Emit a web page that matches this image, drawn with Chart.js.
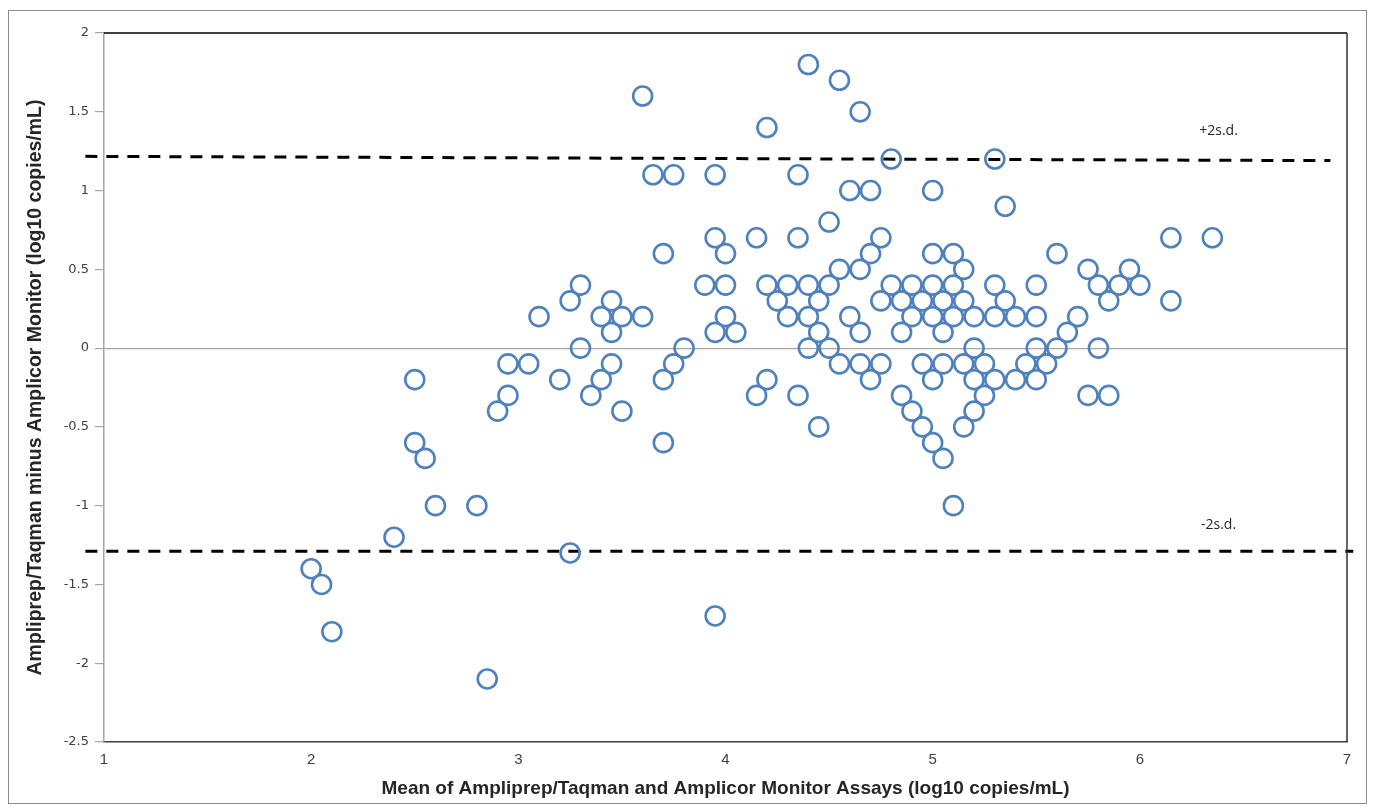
<!DOCTYPE html>
<html>
<head>
<meta charset="utf-8">
<script src="https://cdn.jsdelivr.net/npm/chart.js@4.4.1/dist/chart.umd.min.js"></script>
<style>
  html, body { margin: 0; padding: 0; background: #ffffff; }
  #wrap { position: relative; width: 1375px; height: 807px; }
</style>
</head>
<body>
<div id="wrap"><canvas id="c" width="1375" height="807"></canvas></div>
<script>
// Mean of the two assays (x) and difference (y)
const meanValues = [
  2.0, 2.05, 2.1, 2.4, 2.5, 2.5, 2.55, 2.6, 2.8, 2.85,
  2.9, 2.95, 2.95, 3.05, 3.1, 3.2, 3.25, 3.25, 3.3, 3.3,
  3.35, 3.4, 3.4, 3.45, 3.45, 3.45, 3.5, 3.5, 3.6, 3.6,
  3.65, 3.7, 3.7, 3.7, 3.75, 3.75, 3.8, 3.9, 3.95, 3.95,
  3.95, 3.95, 4.0, 4.0, 4.0, 4.05, 4.15, 4.15, 4.2, 4.2,
  4.2, 4.25, 4.3, 4.3, 4.35, 4.35, 4.35, 4.4, 4.4, 4.4,
  4.4, 4.45, 4.45, 4.45, 4.5, 4.5, 4.5, 4.55, 4.55, 4.55,
  4.6, 4.6, 4.65, 4.65, 4.65, 4.65, 4.7, 4.7, 4.7, 4.75,
  4.75, 4.75, 4.8, 4.8, 4.85, 4.85, 4.85, 4.9, 4.9, 4.9,
  4.95, 4.95, 4.95, 5.0, 5.0, 5.0, 5.0, 5.0, 5.0, 5.05,
  5.05, 5.05, 5.05, 5.1, 5.1, 5.1, 5.1, 5.15, 5.15, 5.15,
  5.15, 5.2, 5.2, 5.2, 5.2, 5.25, 5.25, 5.3, 5.3, 5.3,
  5.3, 5.35, 5.35, 5.4, 5.4, 5.45, 5.5, 5.5, 5.5, 5.5,
  5.55, 5.6, 5.6, 5.65, 5.7, 5.75, 5.75, 5.8, 5.8, 5.85,
  5.85, 5.9, 5.95, 6.0, 6.15, 6.15, 6.35
];
const diffValues = [
  -1.4, -1.5, -1.8, -1.2, -0.2, -0.6, -0.7, -1.0, -1.0, -2.1,
  -0.4, -0.1, -0.3, -0.1, 0.2, -0.2, 0.3, -1.3, 0.4, 0.0,
  -0.3, 0.2, -0.2, 0.3, 0.1, -0.1, 0.2, -0.4, 1.6, 0.2,
  1.1, 0.6, -0.2, -0.6, 1.1, -0.1, 0.0, 0.4, 1.1, 0.7,
  0.1, -1.7, 0.6, 0.4, 0.2, 0.1, 0.7, -0.3, 1.4, 0.4,
  -0.2, 0.3, 0.4, 0.2, 1.1, 0.7, -0.3, 1.8, 0.4, 0.2,
  0.0, 0.3, 0.1, -0.5, 0.8, 0.4, 0.0, 1.7, 0.5, -0.1,
  1.0, 0.2, 1.5, 0.5, 0.1, -0.1, 1.0, 0.6, -0.2, 0.7,
  0.3, -0.1, 1.2, 0.4, 0.3, 0.1, -0.3, 0.4, 0.2, -0.4,
  0.3, -0.1, -0.5, 1.0, 0.6, 0.4, 0.2, -0.2, -0.6, 0.3,
  0.1, -0.1, -0.7, 0.6, 0.4, 0.2, -1.0, 0.5, 0.3, -0.1,
  -0.5, 0.2, 0.0, -0.2, -0.4, -0.1, -0.3, 1.2, 0.4, 0.2,
  -0.2, 0.9, 0.3, 0.2, -0.2, -0.1, 0.4, 0.2, 0.0, -0.2,
  -0.1, 0.6, 0.0, 0.1, 0.2, 0.5, -0.3, 0.4, 0.0, 0.3,
  -0.3, 0.4, 0.5, 0.4, 0.7, 0.3, 0.7
];
// +/- 2 s.d. limit lines (end points)
const upperSdX = [0.91, 6.92];
const upperSdY = [1.217, 1.19];
const lowerSdX = [0.91, 7.03];
const lowerSdY = [-1.29, -1.29];
// Axis ranges / tick steps
const xRange = [1, 7];
const xStep = 1;
const yRange = [-2.5, 2];
const yStep = 0.5;
// Texts
const xTitle = 'Mean of Ampliprep/Taqman and Amplicor Monitor Assays (log10 copies/mL)';
const yTitle = 'Ampliprep/Taqman minus Amplicor Monitor (log10 copies/mL)';
const sdLabels = [
  { text: '+2s.d.', x: 6.38, y: 1.38 },
  { text: '-2s.d.', x: 6.38, y: -1.12 }
];

const scatterPoints = meanValues.map((m, i) => ({ x: m, y: diffValues[i] }));
const upperLine = upperSdX.map((x, i) => ({ x: x, y: upperSdY[i] }));
const lowerLine = lowerSdX.map((x, i) => ({ x: x, y: lowerSdY[i] }));

const framePlugin = {
  id: 'frame',
  afterDraw(chart) {
    const ctx = chart.ctx;
    const a = chart.chartArea;
    ctx.save();
    // outer frame
    ctx.strokeStyle = '#8c8c8c';
    ctx.lineWidth = 1;
    ctx.strokeRect(8.5, 10.5, 1358, 793);
    // top and right border of plot area
    ctx.strokeStyle = '#000000';
    ctx.lineWidth = 1.5;
    ctx.beginPath();
    ctx.moveTo(a.left, a.top);
    ctx.lineTo(a.right, a.top);
    ctx.stroke();
    ctx.strokeStyle = '#333333';
    ctx.beginPath();
    ctx.moveTo(a.right, a.top);
    ctx.lineTo(a.right, a.bottom);
    ctx.stroke();
    // s.d. labels
    const xs = chart.scales.x, ys = chart.scales.y;
    ctx.fillStyle = '#262626';
    ctx.font = '14px "Open Sans", sans-serif';
    ctx.textAlign = 'center';
    ctx.textBaseline = 'middle';
    sdLabels.forEach(l => {
      ctx.fillText(l.text, xs.getPixelForValue(l.x), ys.getPixelForValue(l.y));
    });
    ctx.restore();
  }
};

new Chart(document.getElementById('c'), {
  type: 'scatter',
  data: {
    datasets: [
      {
        label: 'Difference',
        data: scatterPoints,
        showLine: false,
        pointStyle: 'circle',
        pointRadius: 9.5,
        pointHoverRadius: 9.5,
        pointBorderWidth: 2.6,
        pointBackgroundColor: 'rgba(255,255,255,0)',
        pointBorderColor: '#4f81bd',
        order: 1
      },
      {
        label: '+2 s.d.',
        data: upperLine,
        showLine: true,
        pointRadius: 0,
        borderColor: '#000000',
        borderWidth: 3,
        borderDash: [12, 9],
        clip: false,
        order: 2
      },
      {
        label: '-2 s.d.',
        data: lowerLine,
        showLine: true,
        pointRadius: 0,
        borderColor: '#000000',
        borderWidth: 3,
        borderDash: [12, 9],
        clip: false,
        order: 2
      }
    ]
  },
  options: {
    responsive: false,
    animation: false,
    devicePixelRatio: 1,
    layout: { padding: { top: 33, right: 28, left: 0, bottom: 0 } },
    plugins: {
      legend: { display: false },
      tooltip: { enabled: false },
      title: { display: false }
    },
    scales: {
      x: {
        type: 'linear',
        min: xRange[0],
        max: xRange[1],
        ticks: {
          stepSize: xStep,
          color: '#404040',
          font: { family: '"Liberation Sans Narrow", "Liberation Sans", sans-serif', size: 15 },
          padding: 9,
          maxRotation: 0
        },
        grid: { display: true, drawOnChartArea: false, drawTicks: false },
        border: { display: true, color: '#404040', width: 1.5 },
        title: {
          display: true,
          text: xTitle,
          color: '#262626',
          font: { family: '"Liberation Sans Narrow", "Liberation Sans", sans-serif', size: 19, weight: 'bold' },
          padding: { top: 2, bottom: 7 }
        },
        afterFit(scale) { scale.height = 65; }
      },
      y: {
        type: 'linear',
        min: yRange[0],
        max: yRange[1],
        ticks: {
          stepSize: yStep,
          color: '#404040',
          font: { family: '"DejaVu Sans", sans-serif', size: 13 },
          padding: 6,
          callback: v => String(Math.round(v * 10) / 10)
        },
        grid: {
          color: ctx => (ctx.tick && ctx.tick.value === 0) ? '#a6a6a6' : 'rgba(0,0,0,0)',
          lineWidth: 1.2,
          tickColor: '#a6a6a6',
          tickLength: 9,
          drawTicks: true
        },
        border: { display: true, color: '#a6a6a6', width: 1.5 },
        title: {
          display: true,
          text: yTitle,
          color: '#262626',
          font: { family: '"Liberation Sans Narrow", "Liberation Sans", sans-serif', size: 19.5, weight: 'bold' },
          padding: { top: 24, bottom: 0 }
        },
        afterFit(scale) { scale.width = 104; }
      }
    }
  },
  plugins: [framePlugin]
});
</script>
</body>
</html>
